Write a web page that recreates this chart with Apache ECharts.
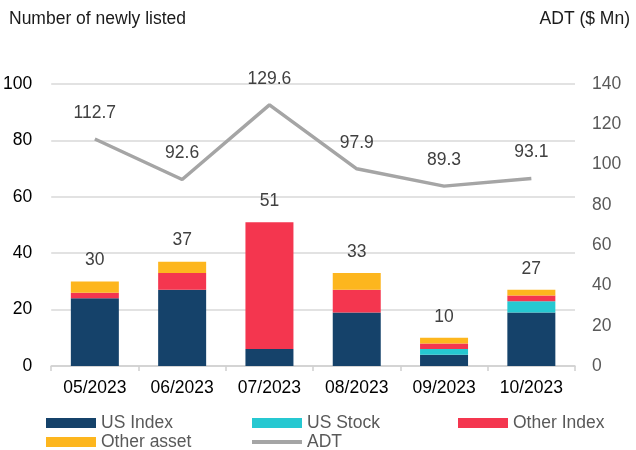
<!DOCTYPE html>
<html><head><meta charset="utf-8">
<script src="https://cdn.jsdelivr.net/npm/echarts@6/dist/echarts.min.js"></script>
<style>html,body{margin:0;padding:0;background:#fff}#c{width:636px;height:450px}</style>
</head><body><div id="c"></div>
<script>
const categories = ['05/2023','06/2023','07/2023','08/2023','09/2023','10/2023'];
const usIndex = [24, 27, 6, 19, 4, 19];
const usStock = [0, 0, 0, 0, 2, 4];
const otherIndex = [2, 6, 45, 8, 2, 2];
const otherAsset = [4, 4, 0, 6, 2, 2];
const totals = [30, 37, 51, 33, 10, 27];
const adt = [112.7, 92.6, 129.6, 97.9, 89.3, 93.1];
const leftTicks = {min: 0, max: 100, interval: 20};
const rightTicks = {min: 0, max: 140, interval: 20};

const font = 'Liberation Sans, Arial, sans-serif';
const fs = 17.5;
const chart = echarts.init(document.getElementById('c'), null, {renderer: 'canvas'});
const barW = 48;
function bar(name, data, color, extra) {
  return Object.assign({
    name, type: 'bar', stack: 'n', data, barWidth: barW,
    itemStyle: {color}, yAxisIndex: 0
  }, extra || {});
}
const legendText = {fontFamily: font, fontSize: fs, color: '#595959'};
const adtIcon = 'path://M0,0 L50,0 L50,4 L0,4 Z';
function leg(name, icon, left, top) {
  return {left, top, itemWidth: 50, itemHeight: 10, itemGap: 0, padding: 0, textStyle: legendText,
          data: [{name, icon}]};
}
chart.setOption({
  animation: false,
  textStyle: {fontFamily: font},
  title: [
    {text: 'Number of newly listed', left: 9, top: 10, padding: 0, textStyle: {fontFamily: font, fontSize: fs, fontWeight: 'normal', color: '#1a1a1a'}},
    {text: 'ADT ($ Mn)', right: 6, top: 10, padding: 0, textStyle: {fontFamily: font, fontSize: fs, fontWeight: 'normal', color: '#1a1a1a'}}
  ],
  grid: {left: 51, right: 61, top: 84, bottom: 84, containLabel: false},
  legend: [
    leg('US Index', 'rect', 46, 414),
    leg('US Stock', 'rect', 252, 414),
    leg('Other Index', 'rect', 458, 414),
    leg('Other asset', 'rect', 46, 433),
    leg('ADT', adtIcon, 252, 433)
  ],
  xAxis: {
    type: 'category', data: categories, boundaryGap: true,
    axisLine: {lineStyle: {color: '#d0d0d0', width: 1.5}},
    axisTick: {show: true, length: 5, lineStyle: {color: '#d0d0d0', width: 1.5}},
    axisLabel: {fontFamily: font, fontSize: fs, color: '#000', margin: 13}
  },
  yAxis: [
    {type: 'value', min: leftTicks.min, max: leftTicks.max, interval: leftTicks.interval,
     axisLine: {show: false}, axisTick: {show: false},
     splitLine: {lineStyle: {color: '#d9d9d9', width: 1.5}},
     axisLabel: {fontFamily: font, fontSize: fs, color: '#000', margin: 19}},
    {type: 'value', min: rightTicks.min, max: rightTicks.max, interval: rightTicks.interval,
     axisLine: {show: false}, axisTick: {show: false}, splitLine: {show: false},
     axisLabel: {fontFamily: font, fontSize: fs, color: '#595959', margin: 17}}
  ],
  series: [
    bar('US Index', usIndex, '#15426A'),
    bar('US Stock', usStock, '#26C8D1'),
    bar('Other Index', otherIndex, '#F4364F'),
    bar('Other asset', otherAsset, '#FDB61E', {
      label: {show: true, position: 'top', distance: 12, fontFamily: font, fontSize: fs, color: '#404040',
              formatter: p => String(totals[p.dataIndex])}
    }),
    {name: 'ADT', type: 'line', yAxisIndex: 1, data: adt, symbol: 'circle', symbolSize: 0.1,
     itemStyle: {color: '#A5A5A5'}, lineStyle: {color: '#A5A5A5', width: 3.5},
     label: {show: true, position: 'top', distance: 17, fontFamily: font, fontSize: fs, color: '#404040',
             formatter: p => p.value.toFixed(1)},
     z: 5}
  ]
});
</script></body></html>
